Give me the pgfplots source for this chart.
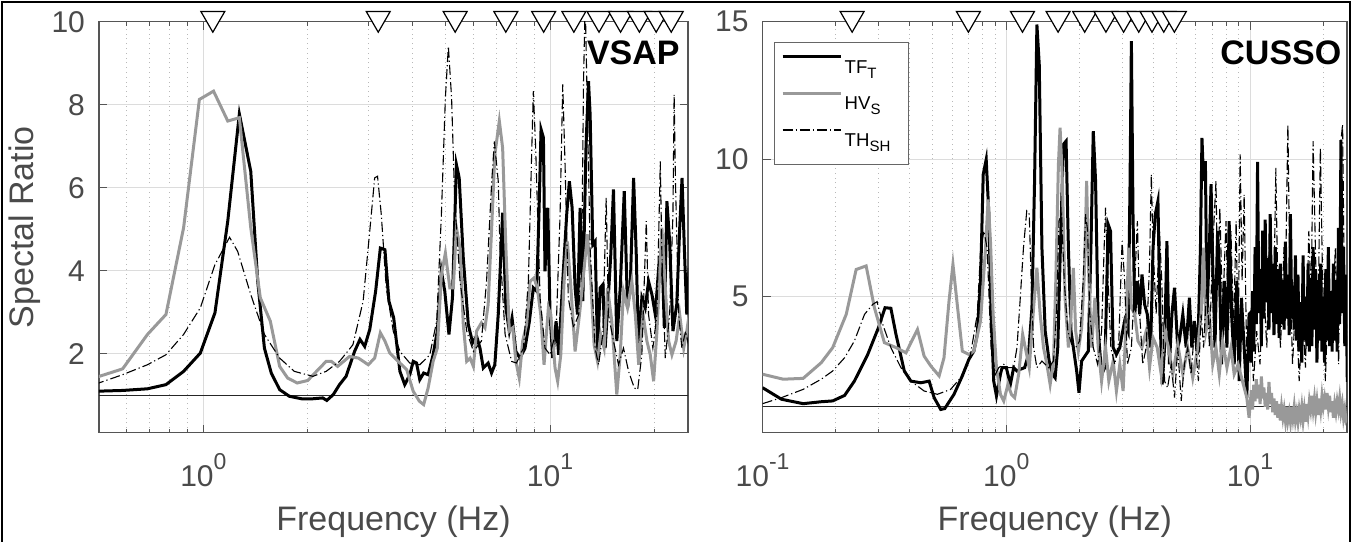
\documentclass[border=0pt]{standalone}
\usepackage{fontspec}
\setmainfont{Liberation Sans}
\usepackage{pgfplots}
\pgfplotsset{compat=1.18}
\definecolor{axgray}{HTML}{555555}
\definecolor{txtgray}{HTML}{4A4A4A}
\definecolor{hvgray}{HTML}{999999}
\definecolor{gridmaj}{HTML}{DCDCDC}
\definecolor{gridmin}{HTML}{B8B8B8}
\newcommand{\tsup}[1]{\raisebox{8.3pt}{\fontsize{11.5}{12}\selectfont #1}}
\newcommand{\lsub}[1]{\raisebox{-2.5pt}{\fontsize{7.5}{8}\selectfont #1}}

\pgfplotsset{
  specax/.style={
    scale only axis, height=205.5pt,
    axis line style={axgray, line width=0.6pt},
    tick style={axgray, line width=0.5pt},
    tick align=inside,
    major tick length=4pt, minor tick length=2pt,
    xmajorgrids, xminorgrids, ymajorgrids,
    major grid style={gridmaj, line width=0.5pt},
    minor x grid style={gridmin, dotted, line width=0.5pt},
    ticklabel style={font=\fontsize{15}{18}\selectfont, text=txtgray},
    xticklabel style={anchor=base, yshift=-26.8pt},
    yticklabel style={xshift=-3.5pt, /pgf/number format/assume math mode=true},
    label style={font=\fontsize{17}{20}\selectfont, text=txtgray},
    xlabel style={at={(axis description cs:0.5,0)}, anchor=base, yshift=-49pt},
    clip marker paths=false,
    xlabel={Frequency (Hz)},
  },
  tf/.style={black, line width=1.5pt},
  hv/.style={hvgray, line width=1.5pt},
  th/.style={black, line width=0.55pt, dash pattern=on 5pt off 1.5pt on 0.6pt off 1.5pt},
  trig/.style={only marks, mark=triangle*, mark size=6.9pt, forget plot,
    mark options={yshift=1.7pt, rotate=180, fill=white, draw=black, line width=0.6pt, solid}},
}

\begin{document}
\begin{tikzpicture}
\useasboundingbox (-49.5pt,-54.1pt) rectangle (626.5pt,216.4pt);

% ---- left: VSAP ----
\begin{semilogxaxis}[specax, at={(0,0)}, width=294.5pt,
  xmin=0.5, xmax=25, ymin=0.1, ymax=10,
  xtick={1,10}, xticklabels={10\tsup{0},10\tsup{1}},
  minor xtick={0.6,0.7,0.8,0.9,2,3,4,5,6,7,8,9,20},
  ytick={2,4,6,8,10},
  ylabel={Spectal Ratio},
  ylabel style={at={(axis description cs:0,0.5)}, anchor=center, yshift=37.3pt},
]
\addplot[black!85, line width=0.5pt, forget plot] coordinates {(0.4,1) (30,1)};
\addplot[tf] coordinates {
(0.484,1.10) (0.585,1.12) (0.69,1.16) (0.78,1.26) (0.877,1.58) (0.98,2.02) (1.08,2.99) (1.176,5.20) (1.27,7.78) (1.37,6.40) (1.435,3.75) (1.50,2.14) (1.57,1.54) (1.66,1.14) (1.77,0.98) (1.92,0.92) (2.07,0.92) (2.21,0.94) (2.27,0.88) (2.37,1.02) (2.47,1.26) (2.58,1.46) (2.73,2.06) (2.83,2.35) (2.92,2.18) (3.02,2.59) (3.14,3.51) (3.24,4.55) (3.34,4.51) (3.43,3.27) (3.54,2.87) (3.69,1.58) (3.81,1.26) (3.94,1.50) (4.03,1.82) (4.12,1.78) (4.21,1.38) (4.32,1.54) (4.45,1.50) (4.60,1.98) (4.73,2.55) (4.86,3.99) (4.97,3.51) (5.11,2.47) (5.23,3.35) (5.37,6.56) (5.47,6.24) (5.62,4.31) (5.81,2.71) (5.98,2.27) (6.14,2.43) (6.28,2.14) (6.42,1.66) (6.63,1.78) (6.78,1.54) (6.93,1.74) (7.09,2.95) (7.30,5.40) (7.46,3.11) (7.63,2.55) (7.77,2.87) (7.97,2.06) (8.19,1.90) (8.47,2.14) (8.72,2.79) (8.95,3.59) (9.15,3.51) (9.29,5.36) (9.42,7.41) (9.57,7.21) (9.67,3.99) (9.85,5.52) (10.0,2.95) (10.18,1.90) (10.41,2.79) (10.59,1.98) (10.88,3.75) (11.17,5.36) (11.37,6.16) (11.58,5.52) (11.81,3.59) (12.0,2.95) (12.21,5.52) (12.43,3.27) (12.70,7.0) (12.91,8.57) (13.05,7.77) (13.28,4.63) (13.49,4.71) (13.71,2.06) (13.95,3.59) (14.2,3.67) (14.42,2.14) (14.74,3.43) (14.97,4.39) (15.24,5.96) (15.58,2.31) (15.94,3.59) (16.37,5.92) (16.73,3.11) (17.03,3.59) (17.42,6.24) (17.73,4.39) (18.0,2.14) (18.4,3.35) (18.82,3.11) (19.24,3.75) (19.68,3.43) (20.12,2.95) (20.57,4.07) (21.02,4.55) (21.36,2.63) (21.73,5.68) (22.13,4.71) (22.62,2.55) (23.2,3.19) (23.66,5.04) (24.03,6.24) (24.4,4.55) (24.8,2.95) (25.2,4.07)
};
\addplot[hv] coordinates {
(0.484,1.42) (0.585,1.64) (0.69,2.47) (0.78,2.95) (0.877,5.04) (0.974,8.13) (1.07,8.33) (1.176,7.61) (1.27,7.69) (1.37,5.04) (1.46,3.35) (1.56,2.79) (1.66,1.70) (1.75,1.42) (1.866,1.30) (2.0,1.36) (2.12,1.58) (2.26,1.82) (2.34,1.82) (2.44,1.70) (2.64,1.94) (2.80,1.90) (2.99,1.74) (3.12,1.90) (3.24,2.51) (3.34,2.31) (3.45,2.02) (3.69,1.78) (3.86,1.62) (4.03,1.10) (4.20,0.86) (4.32,0.78) (4.45,1.18) (4.60,1.82) (4.73,2.14) (4.86,3.91) (4.99,4.43) (5.14,3.59) (5.26,3.59) (5.37,5.04) (5.50,4.55) (5.62,2.71) (5.75,1.82) (5.88,1.90) (6.01,1.70) (6.14,2.55) (6.34,2.75) (6.49,2.63) (6.63,3.19) (6.78,4.96) (6.93,6.80) (7.14,7.61) (7.30,6.96) (7.46,4.55) (7.63,2.55) (7.81,2.63) (7.97,1.82) (8.15,1.42) (8.34,2.31) (8.56,2.71) (8.76,3.75) (8.99,3.83) (9.19,3.59) (9.40,2.95) (9.61,1.74) (9.89,3.11) (10.05,2.95) (10.34,1.66) (10.52,1.34) (10.74,1.98) (10.98,3.75) (11.22,4.71) (11.47,3.67) (11.81,2.06) (12.16,2.95) (12.49,3.91) (12.82,4.88) (13.11,3.75) (13.4,2.22) (13.71,1.82) (14.0,2.47) (14.32,2.14) (14.65,3.59) (15.07,2.79) (15.58,1.02) (15.94,1.98) (16.29,3.51) (16.73,3.11) (17.22,3.75) (17.62,2.95) (18.02,1.74) (18.55,2.95) (19.03,2.31) (19.46,1.98) (19.9,1.34) (20.34,2.55) (21.02,5.04) (21.5,3.59) (21.98,2.31) (22.47,1.98) (23.1,2.31) (23.66,2.95) (24.3,2.14) (24.8,2.55) (25.2,2.95)
};
\addplot[th] coordinates {
(0.484,1.26) (0.585,1.50) (0.69,1.74) (0.78,1.98) (0.877,2.47) (0.98,3.11) (1.08,4.15) (1.19,4.81) (1.256,4.47) (1.37,3.43) (1.50,2.47) (1.66,1.90) (1.83,1.58) (2.07,1.46) (2.26,1.58) (2.47,1.82) (2.70,2.22) (2.89,3.27) (3.02,4.96) (3.12,6.24) (3.18,6.28) (3.26,5.36) (3.37,3.59) (3.53,2.55) (3.69,2.06) (3.94,1.78) (4.21,1.74) (4.50,1.98) (4.71,2.79) (4.86,5.36) (4.99,8.17) (5.09,9.41) (5.20,8.17) (5.31,5.68) (5.50,3.75) (5.75,2.55) (6.01,2.06) (6.34,2.31) (6.56,3.75) (6.79,6.16) (6.91,7.12) (7.09,6.16) (7.17,4.55) (7.42,2.47) (7.75,1.82) (8.0,1.78) (8.38,2.14) (8.66,3.75) (8.86,6.96) (8.95,8.33) (9.09,6.96) (9.36,3.35) (9.67,2.14) (10.0,1.98) (10.41,2.55) (10.69,5.36) (10.88,8.49) (11.05,6.56) (11.29,3.35) (11.69,2.63) (12.1,2.95) (12.38,5.36) (12.49,8.57) (12.63,10.5) (12.82,7.77) (13.05,4.55) (13.49,2.14) (13.8,1.74) (14.2,2.47) (14.52,5.76) (14.74,2.95) (15.24,2.31) (15.76,1.74) (16.29,2.14) (16.85,1.58) (17.5,1.18) (17.9,1.14) (18.4,1.98) (18.95,5.20) (19.24,2.95) (19.8,2.14) (20.34,2.95) (20.8,6.64) (21.0,4.55) (21.5,1.90) (22.13,2.95) (22.62,5.36) (22.8,8.25) (23.0,6.16) (23.5,2.95) (24.0,2.14) (24.6,2.55) (25.2,2.14)
};
\addplot[trig] coordinates {
(1.065,10) (3.195,10) (5.325,10) (7.455,10) (9.585,10) (11.715,10) (13.845,10) (15.975,10) (18.105,10) (20.235,10) (22.365,10)
};
\node[anchor=east, inner sep=0pt, font=\bfseries\fontsize{17}{20}\selectfont] at (rel axis cs:0.9864,0.925) {VSAP};
\end{semilogxaxis}

% ---- right: CUSSO ----
\begin{semilogxaxis}[specax, at={(331.8pt,0)}, width=292.2pt,
  xmin=0.1, xmax=25, ymin=0.05, ymax=15,
  xtick={0.1,1,10}, xticklabels={10\tsup{-1},10\tsup{0},10\tsup{1}},
  minor xtick={0.2,0.3,0.4,0.5,0.6,0.7,0.8,0.9,2,3,4,5,6,7,8,9,20},
  ytick={5,10,15},
  legend style={at={(0.0195,0.9513)}, anchor=north west, draw=black!60, line width=0.5pt,
    fill=white, font=\fontsize{9.3}{11}\selectfont, inner xsep=3.3pt, inner ysep=6.5pt,
    row sep=6.8pt, cells={anchor=west},
    nodes={inner xsep=1pt, inner ysep=0pt, text height=9pt, text depth=2.5pt}},
  legend image code/.code={\draw[#1] (0pt,5pt) -- (29.3pt,5pt);},
]
\addplot[black!85, line width=0.5pt, forget plot] coordinates {(0.08,1) (30,1)};
\addplot[tf] coordinates {
(0.1,1.69) (0.1196,1.27) (0.1467,1.11) (0.174,1.18) (0.194,1.21) (0.217,1.41) (0.238,1.93) (0.270,2.90) (0.2987,3.87) (0.318,4.60) (0.336,4.58) (0.3526,3.63) (0.3814,2.30) (0.406,1.93) (0.446,1.87) (0.4824,1.93) (0.5055,1.33) (0.538,0.90) (0.5588,0.93) (0.61,1.45) (0.66,2.12) (0.702,2.72) (0.736,3.02) (0.76,3.63) (0.784,5.57) (0.804,9.45) (0.827,9.99) (0.848,8.0) (0.866,4.36) (0.888,1.93) (0.911,1.39) (0.946,2.18) (0.961,2.42) (1.0,2.42) (1.039,1.81) (1.072,2.42) (1.106,2.30) (1.141,2.36) (1.189,2.42) (1.234,2.90) (1.274,4.60) (1.306,9.21) (1.335,14.9) (1.365,13.45) (1.40,6.78) (1.444,3.75) (1.499,2.66) (1.547,2.18) (1.586,2.05) (1.626,3.15) (1.667,6.78) (1.715,10.54) (1.759,10.66) (1.798,6.78) (1.843,3.75) (1.884,3.15) (1.944,2.30) (1.987,1.51) (2.037,2.66) (2.102,2.84) (2.169,3.02) (2.224,6.78) (2.274,11.02) (2.324,9.21) (2.384,3.75) (2.46,2.18) (2.537,2.42) (2.618,7.63) (2.676,7.39) (2.744,3.15) (2.83,2.90) (2.922,3.15) (2.986,3.63) (3.06,4.12) (3.16,3.75) (3.22,9.21) (3.26,14.3) (3.31,8.0) (3.365,4.36) (3.45,5.57) (3.526,4.36) (3.604,5.81) (3.695,4.72) (3.789,4.36) (3.91,3.15) (4.0,6.78) (4.086,8.0) (4.19,8.48) (4.27,4.36) (4.36,1.81) (4.46,3.15) (4.56,7.02) (4.67,2.54) (4.78,4.36) (4.9,5.33) (5.05,3.15) (5.13,3.39) (5.30,4.36) (5.47,3.15) (5.64,4.96) (5.77,3.15) (5.91,4.12) (6.10,2.90) (6.26,6.78) (6.35,10.78) (6.45,9.21) (6.56,9.93) (6.66,4.36) (6.81,6.78) (6.92,9.09) (7.03,6.18) (7.18,3.15) (7.36,7.39) (7.48,6.18) (7.64,2.54) (7.84,5.57) (8.04,3.15) (8.21,7.75) (8.40,4.36) (8.61,2.54) (8.83,5.57) (9.03,1.93) (9.22,4.96) (9.46,3.15) (9.70,1.33) (9.91,4.36)
(10.00,4.4) (10.12,2.6) (10.24,5.2) (10.36,3.0) (10.49,6.8) (10.61,4.0) (10.74,9.9) (10.87,4.4) (11.00,6.0) (11.13,3.2) (11.27,7.4) (11.40,4.2) (11.54,7.8) (11.68,4.8) (11.82,6.4) (11.96,3.8) (12.10,8.0) (12.25,4.4) (12.39,6.2) (12.54,3.6) (12.69,6.8) (12.85,4.0) (13.00,6.0) (13.16,3.5) (13.31,6.2) (13.47,4.0) (13.64,5.6) (13.80,3.8) (13.97,7.0) (14.13,4.2) (14.30,5.8) (14.48,3.6) (14.65,8.0) (14.83,4.2) (15.00,5.4) (15.18,3.8) (15.36,6.5) (15.55,3.4) (15.73,5.8) (15.92,3.0) (16.12,4.8) (16.31,2.6) (16.51,6.5) (16.70,3.4) (16.90,5.0) (17.11,3.2) (17.31,6.2) (17.52,3.0) (17.73,5.4) (17.94,3.2) (18.16,6.8) (18.38,3.8) (18.60,6.0) (18.82,2.6) (19.05,5.6) (19.28,3.4) (19.51,6.2) (19.74,3.0) (19.98,5.0) (20.22,2.6) (20.46,6.0) (20.71,3.4) (20.96,6.8) (21.21,3.2) (21.46,5.2) (21.72,3.0) (21.98,6.2) (22.25,3.4) (22.51,5.6) (22.78,3.0) (23.06,7.5) (23.33,4.0) (23.61,10.7) (23.90,4.4) (24.19,6.8) (24.48,3.2) (24.77,5.8) (25.07,1.9)
};
\addlegendentry{TF\lsub{T}}
\addplot[hv] coordinates {
(0.1,2.18) (0.1215,2.0) (0.1467,2.03) (0.174,2.6) (0.194,3.15) (0.2204,4.36) (0.242,5.99) (0.266,6.12) (0.2876,4.60) (0.316,3.33) (0.3526,3.15) (0.3874,2.96) (0.432,3.81) (0.46,2.84) (0.49,2.48) (0.53,2.12) (0.555,2.78) (0.582,4.84) (0.604,6.18) (0.629,4.72) (0.66,3.02) (0.702,2.90) (0.736,3.02) (0.784,4.12) (0.822,6.78) (0.842,8.54) (0.861,7.02) (0.883,4.36) (0.911,2.42) (0.946,1.45) (0.976,1.21) (1.016,1.81) (1.049,1.45) (1.082,1.33) (1.124,2.18) (1.167,3.63) (1.196,3.15) (1.242,2.42) (1.294,4.60) (1.335,6.05) (1.377,4.36) (1.421,3.15) (1.467,2.54) (1.513,1.81) (1.562,2.66) (1.596,5.57) (1.636,9.81) (1.662,11.15) (1.699,9.21) (1.742,4.96) (1.798,3.15) (1.843,4.36) (1.884,6.05) (1.926,3.75) (1.975,3.02) (2.037,3.87) (2.09,5.81) (2.136,9.21) (2.183,5.57) (2.238,3.15) (2.31,4.96) (2.384,3.15) (2.46,1.93) (2.554,3.15) (2.634,1.93) (2.744,2.66) (2.83,1.57) (2.922,2.54) (3.015,1.57) (3.11,4.36) (3.18,6.78) (3.26,4.60) (3.365,4.36) (3.47,3.39) (3.60,3.15) (3.75,3.75) (3.87,2.42) (4.0,3.51) (4.16,3.15) (4.32,2.18) (4.46,3.75) (4.63,3.15) (4.82,2.18) (5.05,3.27) (5.30,2.18) (5.55,3.15) (5.82,2.05) (6.10,3.15) (6.30,4.36) (6.45,6.78) (6.60,3.75) (6.81,4.36) (7.03,2.54) (7.25,3.15) (7.48,2.18) (7.72,3.39) (8.04,2.42) (8.35,3.15) (8.61,2.18) (8.94,2.54) (9.31,1.93) (9.70,1.33) (9.91,0.60)
(10.00,1.0) (10.12,1.6) (10.24,0.9) (10.36,1.8) (10.49,1.2) (10.61,2.0) (10.74,1.3) (10.87,1.8) (11.00,1.1) (11.13,2.1) (11.27,1.3) (11.40,1.7) (11.54,1.0) (11.68,1.5) (11.82,0.9) (11.96,1.9) (12.10,1.1) (12.25,1.5) (12.39,0.8) (12.54,1.3) (12.69,0.7) (12.85,1.2) (13.00,0.6) (13.16,1.1) (13.31,0.5) (13.47,1.0) (13.64,0.6) (13.80,0.9) (13.97,0.5) (14.13,1.0) (14.30,0.5) (14.48,0.8) (14.65,0.45) (14.83,1.0) (15.00,0.6) (15.18,1.0) (15.36,0.5) (15.55,0.8) (15.73,0.45) (15.92,0.9) (16.12,0.6) (16.31,1.0) (16.51,0.5) (16.70,0.9) (16.90,0.45) (17.11,1.1) (17.31,0.7) (17.52,1.2) (17.73,0.9) (17.94,1.4) (18.16,0.9) (18.38,1.3) (18.60,0.8) (18.82,1.2) (19.05,0.7) (19.28,1.3) (19.51,0.9) (19.74,1.4) (19.98,1.0) (20.22,1.3) (20.46,0.9) (20.71,1.5) (20.96,1.0) (21.21,1.4) (21.46,0.8) (21.72,1.2) (21.98,0.6) (22.25,1.1) (22.51,0.8) (22.78,1.2) (23.06,0.9) (23.33,1.3) (23.61,0.8) (23.90,1.1) (24.19,0.6) (24.48,0.9) (24.77,0.5) (25.07,0.6)
};
\addlegendentry{HV\lsub{S}}
\addplot[th] coordinates {
(0.1,1.11) (0.1196,1.33) (0.1467,1.63) (0.174,2.0) (0.194,2.30) (0.217,2.78) (0.238,3.39) (0.262,4.36) (0.283,4.72) (0.295,4.82) (0.311,4.0) (0.336,3.15) (0.3696,2.42) (0.406,1.93) (0.46,1.57) (0.5215,1.45) (0.591,1.63) (0.649,2.05) (0.713,2.90) (0.76,4.36) (0.784,6.66) (0.809,7.39) (0.834,6.78) (0.866,3.15) (0.902,2.18) (0.931,2.42) (0.976,2.54) (1.018,2.42) (1.072,2.42) (1.106,3.15) (1.141,4.96) (1.176,6.78) (1.213,8.12) (1.242,8.0) (1.265,5.57) (1.294,3.15) (1.335,2.42) (1.40,2.66) (1.49,2.42) (1.562,2.66) (1.606,4.36) (1.645,7.75) (1.686,8.0) (1.729,5.57) (1.788,3.75) (1.853,3.27) (1.926,3.15) (2.0,3.39) (2.067,5.57) (2.116,8.0) (2.156,7.39) (2.2,4.36) (2.274,3.15) (2.37,2.54) (2.46,3.75) (2.52,6.78) (2.554,8.24) (2.60,6.18) (2.685,3.15) (2.786,2.54) (2.894,3.39) (2.986,7.02) (3.06,5.57) (3.14,2.54) (3.26,3.15) (3.365,5.57) (3.45,7.75) (3.526,4.36) (3.63,2.54) (3.75,3.15) (3.87,6.18) (3.935,9.45) (4.0,6.78) (4.12,4.36) (4.25,7.39) (4.345,5.57) (4.46,1.93) (4.59,1.69) (4.75,2.54) (4.90,1.33) (5.05,3.15) (5.22,1.21) (5.38,2.54) (5.55,3.15) (5.73,2.18) (5.91,3.75) (6.14,1.93) (6.30,4.36) (6.45,3.15) (6.66,5.57) (6.81,3.15) (7.03,6.78) (7.25,9.21) (7.36,5.57) (7.52,8.24) (7.72,4.36) (7.97,7.75) (8.16,3.75) (8.35,7.39) (8.56,3.75) (8.77,7.75) (8.94,3.15) (9.11,10.18) (9.28,5.57) (9.46,8.72) (9.70,2.54) (10.0,4.36) (10.33,1.93) (10.65,3.75) (10.99,2.54) (11.34,5.57) (11.72,3.15) (12.08,8.0) (12.49,4.36) (12.76,9.69) (13.02,4.96) (13.34,3.15) (13.78,6.78) (14.05,6.78) (14.3,11.27) (14.52,6.78) (14.94,2.54) (15.42,4.96) (15.91,1.93) (16.43,4.36) (16.89,2.42) (17.43,7.39) (17.82,4.96) (18.15,10.66) (18.55,6.78) (18.96,3.15) (19.44,10.42) (19.80,6.18) (20.38,1.93) (21.02,5.57) (21.68,3.15) (22.38,6.78) (23.1,2.54) (23.6,10.66) (23.98,11.27) (24.36,5.57) (25.14,3.15)
};
\addlegendentry{TH\lsub{SH}\hspace*{5pt}}
\addplot[trig] coordinates {
(0.233,15) (0.699,15) (1.165,15) (1.631,15) (2.097,15) (2.563,15) (3.029,15) (3.495,15) (3.961,15) (4.427,15) (4.893,15)
};
\node[anchor=east, inner sep=0pt, font=\bfseries\fontsize{17}{20}\selectfont] at (rel axis cs:0.991,0.925) {CUSSO};
\end{semilogxaxis}

% outer figure frame
\draw[line width=1.2pt] (-48.6pt,-60pt) -- (-48.6pt,215.3pt) -- (625.4pt,215.3pt) -- (625.4pt,-60pt);
\end{tikzpicture}
\end{document}
